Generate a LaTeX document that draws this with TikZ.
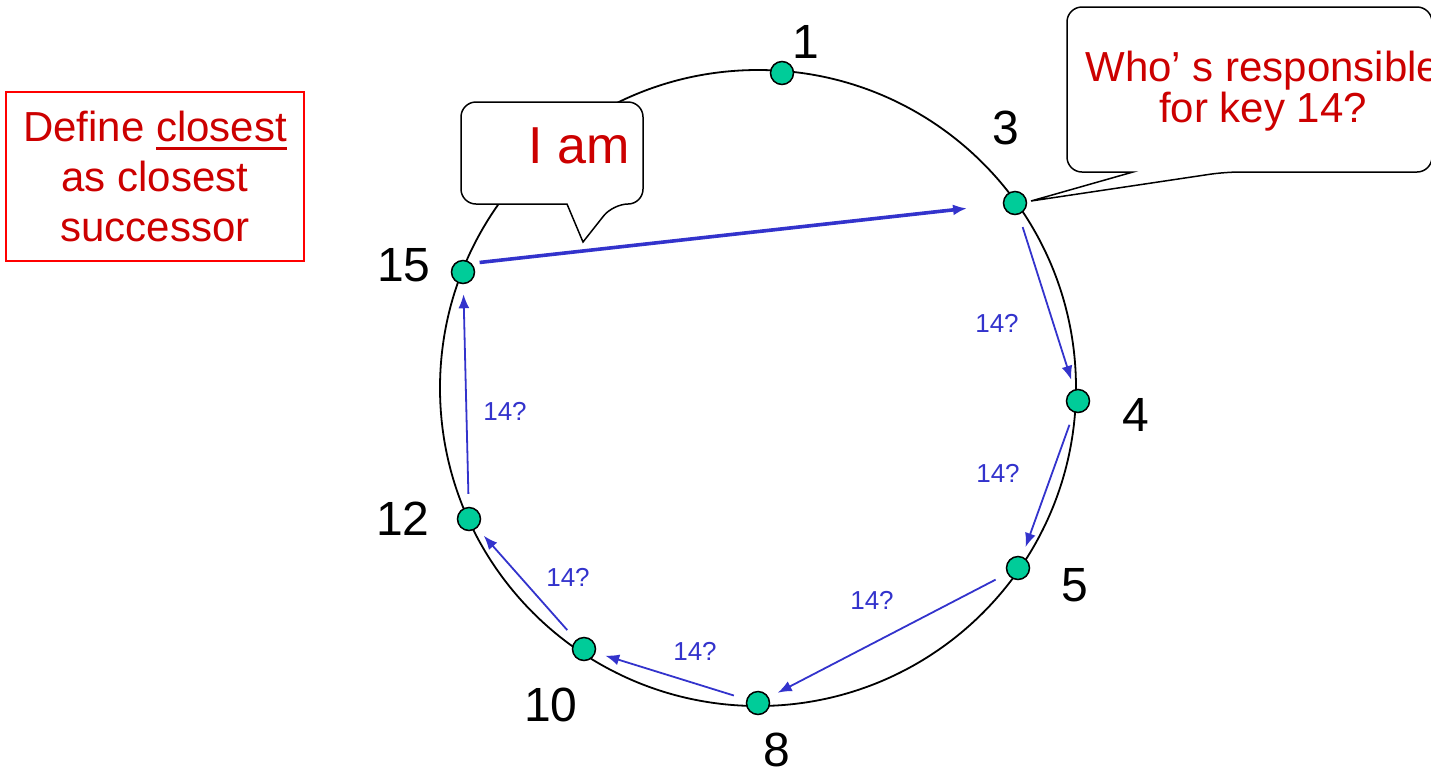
\documentclass[tikz,border=0pt]{standalone}
\usepackage{fontspec}
\setmainfont{Liberation Sans}
\usetikzlibrary{arrows.meta}
\definecolor{keyred}{RGB}{204,0,0}
\definecolor{hopblue}{RGB}{51,51,204}
\definecolor{peergreen}{RGB}{0,204,153}
\newcommand{\thickul}[1]{\mbox{\setbox0=\hbox{#1}\rlap{\rule[-4pt]{\wd0}{1.4pt}}\box0}}

\begin{document}
\begin{tikzpicture}[x=0.5pt, y=-0.5pt,
    peer/.style={circle, draw, line width=0.75pt, fill=peergreen, minimum size=11.5pt, inner sep=0pt},
    idlabel/.style={font=\fontsize{24}{28}\selectfont},
    hop/.style={-{Latex[length=7pt,width=5.5pt]}, hopblue, line width=0.9pt, shorten <=6.5pt, shorten >=5pt},
    reply/.style={hop, line width=1.8pt, shorten <=4pt, shorten >=18pt},
    asklabel/.style={text=hopblue, font=\fontsize{13}{15}\selectfont},
    bubble/.style={draw, fill=white, line width=0.75pt},
    redtext/.style={text=keyred, align=center}
]
    \useasboundingbox (0,0) rectangle (1431,773);
    \clip (0,0) rectangle (1431,773);

    % Ring
    \draw[line width=0.9pt] (758,388) circle[radius=159pt];

    % Speech bubbles
    \draw[bubble] (461,153) [rounded corners=7.5pt] -- (461,102) -- (643,102) -- (643,204)
        -- (613,204) [sharp corners] -- (583,242) -- (567,204) [rounded corners=7.5pt] -- (461,204) -- cycle;
    \node[redtext, font=\fontsize{26}{30}\selectfont] (iam) at (579,146) {I am};

    \draw[bubble] (1067,90) [rounded corners=7.5pt] -- (1067,7) -- (1432,7) -- (1432,172)
        -- (1225,172) [sharp corners] -- (1031,201) -- (1133,172) [rounded corners=7.5pt] -- (1067,172) -- cycle;
    \node[redtext, font=\fontsize{21}{20.5}\selectfont] (askq) at (1263,91) {Who’ s responsible\\for key 14?};

    % Note box
    \node[redtext, draw=red, line width=0.6pt, minimum width=149pt, minimum height=84.5pt,
        font=\fontsize{21}{25}\selectfont] (note) at (155,176.5)
        {Define \thickul{closest}\\as closest\\successor};

    % Peers
    \node[peer] (n1) at (782,73) {};
    \node[peer] (n3) at (1015,203) {};
    \node[peer] (n4) at (1078,401) {};
    \node[peer] (n5) at (1018,568) {};
    \node[peer] (n8) at (758,703) {};
    \node[peer] (n10) at (584,649) {};
    \node[peer] (n12) at (469,519) {};
    \node[peer] (n15) at (463,272) {};

    % Identifiers
    \node[idlabel] (l1) at (806,42) {1};
    \node[idlabel] (l3) at (1006,128) {3};
    \node[idlabel] (l4) at (1136,415) {4};
    \node[idlabel] (l5) at (1075,585) {5};
    \node[idlabel] (l8) at (777,750) {8};
    \node[idlabel] (l10) at (551,705) {10};
    \node[idlabel] (l12) at (403,519) {12};
    \node[idlabel] (l15) at (404,265) {15};

    % Lookup hops
    \draw[hop] (n3) -- (n4);
    \draw[hop] (n4) -- (n5);
    \draw[hop] (n5) -- (n8);
    \draw[hop] (n8) -- (n10);
    \draw[hop] (n10) -- (n12);
    \draw[hop] (n12) -- (n15);
    \draw[reply] (n15.north east) -- (n3);

    \node[asklabel] (q34) at (997,323) {14?};
    \node[asklabel] (q45) at (998,473) {14?};
    \node[asklabel] (q58) at (872,600) {14?};
    \node[asklabel] (q810) at (695,651) {14?};
    \node[asklabel] (q1012) at (568,577) {14?};
    \node[asklabel] (q1215) at (505,411) {14?};
\end{tikzpicture}
\end{document}
